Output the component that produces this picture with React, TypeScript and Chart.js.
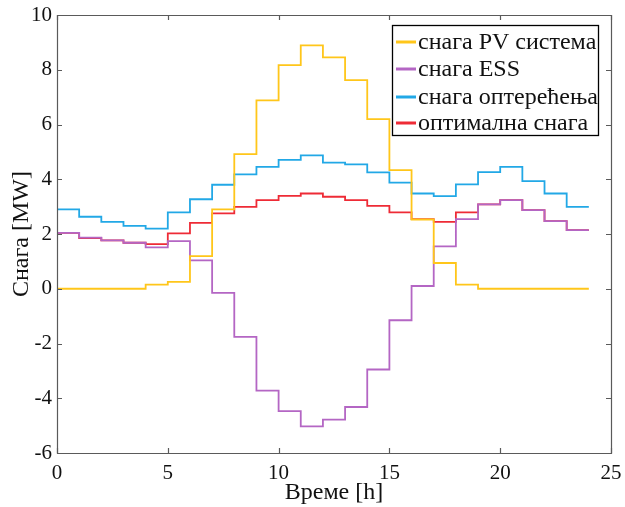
import React, { useEffect, useRef } from "react";
import { Chart, registerables } from "chart.js";

Chart.register(...registerables);

const hours = [0, 1, 2, 3, 4, 5, 6, 7, 8, 9, 10, 11, 12, 13, 14, 15, 16, 17, 18, 19, 20, 21, 22, 23];
const pvPower = [0, 0, 0, 0, 0.15, 0.25, 1.19, 2.9, 4.92, 6.88, 8.17, 8.89, 8.45, 7.62, 6.2, 4.33, 2.53, 0.94, 0.15, 0, 0, 0, 0, 0];
const essPower = [2.04, 1.87, 1.77, 1.68, 1.51, 1.74, 1.04, -0.15, -1.76, -3.72, -4.47, -5.03, -4.78, -4.32, -2.95, -1.15, 0.1, 1.55, 2.54, 3.08, 3.24, 2.87, 2.47, 2.14];
const loadPower = [2.9, 2.63, 2.44, 2.3, 2.2, 2.79, 3.27, 3.8, 4.18, 4.45, 4.71, 4.87, 4.61, 4.54, 4.25, 3.88, 3.48, 3.38, 3.81, 4.26, 4.45, 3.93, 3.48, 2.99];
const optimalPower = [2.04, 1.85, 1.77, 1.68, 1.63, 2.02, 2.41, 2.75, 2.99, 3.24, 3.39, 3.48, 3.36, 3.24, 3.03, 2.79, 2.54, 2.44, 2.79, 3.08, 3.24, 2.87, 2.47, 2.14];
const endHour = 24;
const seriesLabels = ["снага PV система", "снага ESS", "снага оптерећења", "оптимална снага"];
const seriesColors = ["#FFC61A", "#B466C4", "#22A8E6", "#EE2B36"];
const xTicks = [0, 5, 10, 15, 20, 25];
const yTicks = [-6, -4, -2, 0, 2, 4, 6, 8, 10];

const FONT = "'Liberation Serif', 'Times New Roman', serif";

function toStairs(values: number[]) {
  const pts = hours.map((h, i) => ({ x: h, y: values[i] }));
  pts.push({ x: endHour, y: values[values.length - 1] });
  return pts;
}

const boxPlugin = {
  id: "matlabBox",
  afterDraw(chart: any) {
    const { ctx, chartArea: a, scales } = chart;
    const xs = scales.x;
    const ys = scales.y;
    ctx.save();
    ctx.strokeStyle = "#5a5a5a";
    ctx.lineWidth = 1.2;
    ctx.beginPath();
    ctx.rect(Math.round(a.left) + 0.5, Math.round(a.top) + 0.5, Math.round(a.right - a.left), Math.round(a.bottom - a.top));
    ctx.stroke();
    const tl = 5;
    ctx.beginPath();
    xTicks.forEach((t) => {
      const px = Math.round(xs.getPixelForValue(t)) + 0.5;
      ctx.moveTo(px, a.bottom);
      ctx.lineTo(px, a.bottom - tl);
      ctx.moveTo(px, a.top);
      ctx.lineTo(px, a.top + tl);
    });
    yTicks.forEach((t) => {
      const py = Math.round(ys.getPixelForValue(t)) + 0.5;
      ctx.moveTo(a.left, py);
      ctx.lineTo(a.left + tl, py);
      ctx.moveTo(a.right, py);
      ctx.lineTo(a.right - tl, py);
    });
    ctx.stroke();

    // legend
    const lx = 392.5;
    const ly = 25.5;
    const lw = 206;
    const lh = 110;
    ctx.fillStyle = "#ffffff";
    ctx.fillRect(lx, ly, lw, lh);
    ctx.strokeStyle = "#000000";
    ctx.lineWidth = 1.3;
    ctx.strokeRect(lx, ly, lw, lh);
    ctx.font = `24px ${FONT}`;
    ctx.textBaseline = "middle";
    ctx.textAlign = "left";
    const rowY = [42, 69, 97, 123];
    chart.data.datasets.forEach((ds: any, i: number) => {
      const y = rowY[i];
      ctx.strokeStyle = ds.borderColor;
      ctx.lineWidth = 3;
      ctx.beginPath();
      ctx.moveTo(396, y);
      ctx.lineTo(416, y);
      ctx.stroke();
      ctx.fillStyle = "#111111";
      ctx.fillText(ds.label, 418, y + 1);
    });
    ctx.restore();
  },
};

export default function App() {
  const ref = useRef<HTMLCanvasElement | null>(null);
  useEffect(() => {
    if (!ref.current) return;
    const all = [pvPower, essPower, loadPower, optimalPower];
    const chart = new Chart(ref.current, {
      type: "line",
      data: {
        datasets: all.map((vals, i) => ({
          label: seriesLabels[i],
          data: toStairs(vals),
          borderColor: seriesColors[i],
          backgroundColor: seriesColors[i],
          borderWidth: 1.8,
          pointRadius: 0,
          stepped: true,
          fill: false,
        })),
      },
      options: {
        animation: false,
        responsive: false,
        maintainAspectRatio: false,
        layout: { padding: { left: 0, right: 14, top: 15, bottom: 0 } },
        plugins: { legend: { display: false }, tooltip: { enabled: false } },
        scales: {
          x: {
            type: "linear",
            min: 0,
            max: 25,
            afterBuildTicks: (s: any) => { s.ticks = xTicks.map((v) => ({ value: v })); },
            afterFit: (s: any) => { s.height = 54; s.paddingLeft = 0; s.paddingRight = 0; },
            grid: { display: false, drawTicks: false },
            border: { display: false },
            ticks: { color: "#111", font: { family: FONT, size: 21 }, padding: 8, maxRotation: 0 },
            title: { display: true, text: "Време [h]", color: "#111", font: { family: FONT, size: 24 }, padding: { top: 0, bottom: 0 } },
          },
          y: {
            type: "linear",
            min: -6,
            max: 10,
            afterBuildTicks: (s: any) => { s.ticks = yTicks.map((v) => ({ value: v })); },
            afterFit: (s: any) => { s.width = 57; s.paddingTop = 0; s.paddingBottom = 0; },
            grid: { display: false, drawTicks: false },
            border: { display: false },
            ticks: { color: "#111", font: { family: FONT, size: 21 }, padding: 5 },
            title: { display: true, text: "Снага [MW]", color: "#111", font: { family: FONT, size: 24 }, padding: { top: 7, bottom: 2 } },
          },
        },
      },
      plugins: [boxPlugin],
    });
    return () => chart.destroy();
  }, []);
  return (
    <div style={{ position: "fixed", left: 0, top: 0, width: 625, height: 507, background: "#fff" }}>
      <canvas ref={ref} width={625} height={507} style={{ width: 625, height: 507 }} />
    </div>
  );
}
